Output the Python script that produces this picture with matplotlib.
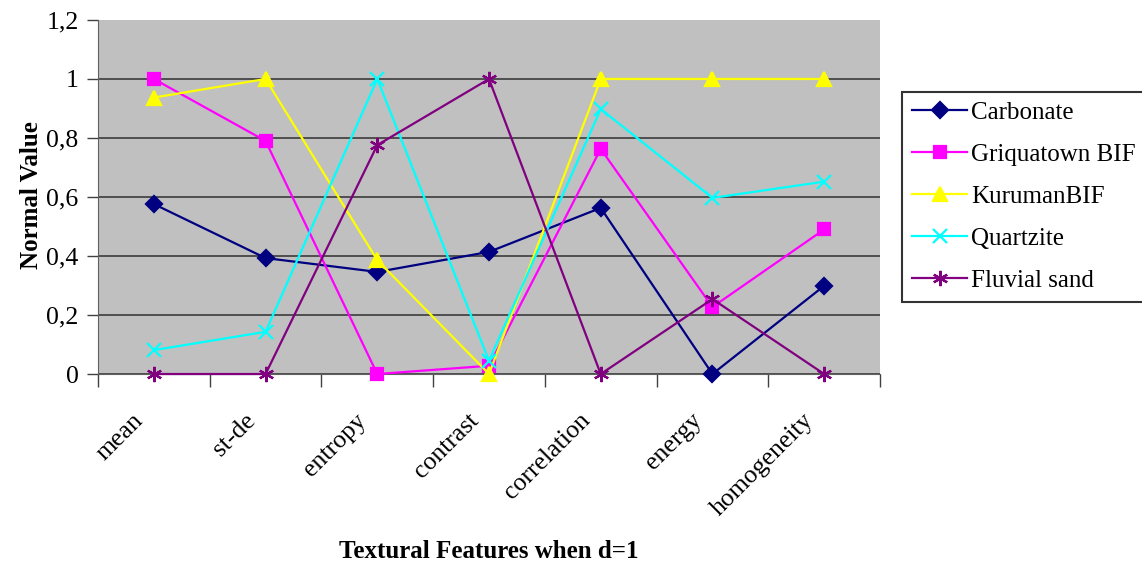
import matplotlib.pyplot as plt
import matplotlib.transforms as mtransforms
from matplotlib.ticker import FuncFormatter

plt.rcParams['font.family'] = ['Liberation Serif', 'DejaVu Serif']

features = ['mean', 'st-de', 'entropy', 'contrast', 'correlation', 'energy', 'homogeneity']

carbonate = [0.576, 0.393, 0.346, 0.414, 0.563, 0.0, 0.299]
griquatown = [1.0, 0.79, 0.0, 0.028, 0.763, 0.227, 0.49]
kuruman = [0.937, 1.0, 0.386, 0.0, 1.0, 1.0, 1.0]
quartzite = [0.081, 0.143, 1.0, 0.045, 0.898, 0.597, 0.652]
fluvial = [0.0, 0.0, 0.776, 1.0, 0.0, 0.254, 0.0]

series = [
    ('Carbonate', carbonate, '#000080', 'D', 8),
    ('Griquatown BIF', griquatown, '#FF00FF', 's', 8),
    ('KurumanBIF', kuruman, '#FFFF00', '^', 10),
    ('Quartzite', quartzite, '#00FFFF', 'x', 10),
    ('Fluvial sand', fluvial, '#800080', (6, 2, 0), 11),
]

fig = plt.figure(figsize=(11.42, 5.66), dpi=100)
ax = fig.add_axes([0.0858, 0.3392, 0.6848, 0.6255])
ax.set_facecolor('#C0C0C0')

x = list(range(len(features)))
for name, vals, color, marker, ms in series:
    ax.plot(x, vals, color=color, marker=marker, markersize=ms, linewidth=1.6,
            markeredgewidth=1.6, label=name, clip_on=False, zorder=3)

ax.set_xlim(-0.5, len(features) - 0.5)
ax.set_ylim(0, 1.2)
ax.set_yticks([0, 0.2, 0.4, 0.6, 0.8, 1.0, 1.2])
ax.yaxis.set_major_formatter(FuncFormatter(lambda v, p: ('%g' % round(v, 1)).replace('.', ',')))
ax.grid(axis='y', color='#303030', linewidth=1.1)
ax.yaxis.get_gridlines()[-1].set_visible(False)
ax.set_axisbelow(True)

# category labels sit between boundary ticks
ax.set_xticks([i - 0.5 for i in range(len(features) + 1)])
ax.set_xticklabels([])
ax.set_xticks(x, minor=True)
ax.set_xticklabels(features, minor=True, rotation=45, ha='right', va='center',
                   rotation_mode='anchor', fontsize=18.5)
ax.tick_params(axis='x', which='minor', length=0, pad=31)
ax.tick_params(axis='x', which='major', length=9, width=1, color='#404040', direction='out')
ax.tick_params(axis='y', length=8, width=1, color='#404040', labelsize=18.5, pad=6)
shift = mtransforms.ScaledTranslation(-10 / 72, 0, fig.dpi_scale_trans)
for lbl in ax.get_xticklabels(minor=True):
    lbl.set_transform(lbl.get_transform() + shift)

for side in ['top', 'right']:
    ax.spines[side].set_visible(False)
ax.spines['left'].set_color('#606060')
ax.spines['bottom'].set_color('#606060')

ax.set_ylabel('Normal Value', fontsize=18, fontweight='bold')
ax.yaxis.set_label_coords(-0.070, 0.506)
ax.set_xlabel('Textural Features when d=1', fontsize=18, fontweight='bold', va='top')
ax.xaxis.set_label_coords(0.5, -0.469)

leg = fig.legend(loc='upper left', bbox_to_anchor=(0.79, 0.838), fontsize=18,
                 frameon=True, fancybox=False, edgecolor='black', handlelength=2.2,
                 handletextpad=0.15, labelspacing=0.78, borderpad=0.4, borderaxespad=0)
leg.get_frame().set_linewidth(1.5)

fig.savefig('out.png', dpi=100)
